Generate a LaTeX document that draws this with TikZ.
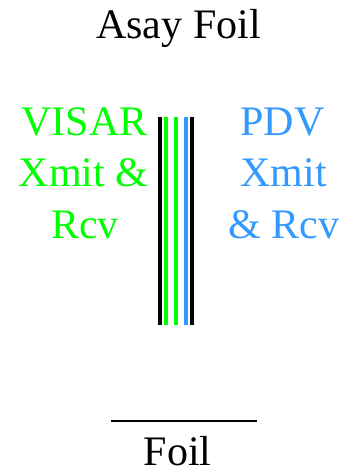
\documentclass[tikz,border=0pt]{standalone}
\usepackage{fontspec}
\setmainfont{Liberation Serif}
\definecolor{visar}{HTML}{00FF00}
\definecolor{pdv}{HTML}{3399FF}
\begin{document}
\begin{tikzpicture}[x=1pt,y=1pt,
  lbl/.style={font=\fontsize{42}{42}\selectfont, inner sep=0pt, anchor=base},
  fiber/.style={line width=4pt}]
\useasboundingbox (0,0) rectangle (341,-471);
\node[lbl] (title) at (178.5,-38) {Asay Foil};
\node[lbl, text=visar] (v1) at (84.5,-135) {VISAR};
\node[lbl, text=visar] (v2) at (83.5,-186) {Xmit \&};
\node[lbl, text=visar] (v3) at (85,-238) {Rcv};
\node[lbl, text=pdv] (p1) at (282.5,-135) {PDV};
\node[lbl, text=pdv] (p2) at (283.5,-186) {Xmit};
\node[lbl, text=pdv] (p3) at (284,-238) {\& Rcv};
\draw[fiber, black] (160,-117) -- (160,-325);
\draw[fiber, visar] (166,-117) -- (166,-325);
\draw[fiber, visar] (176,-117) -- (176,-325);
\draw[fiber, pdv] (186,-117) -- (186,-325);
\draw[fiber, black] (192,-117) -- (192,-325);
\draw[line width=1.5pt] (111,-421) -- (257,-421);
\node[lbl] (foil) at (177.5,-465) {Foil};
\end{tikzpicture}
\end{document}
